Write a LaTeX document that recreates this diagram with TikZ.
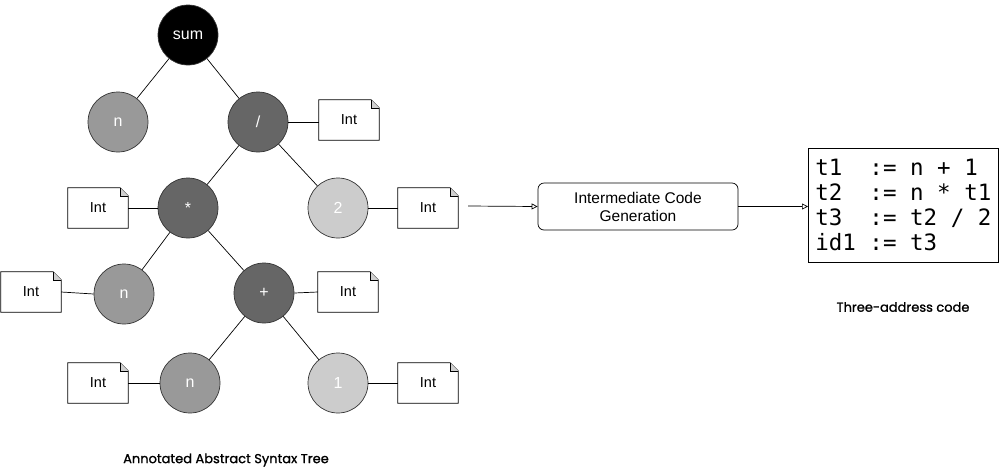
\documentclass[tikz,border=0pt]{standalone}
\usepackage{fontspec}
\setmainfont{Liberation Sans}
\setmonofont{DejaVu Sans Mono}
\newfontfamily\capfont[FakeBold=1.2]{Poppins}
\usetikzlibrary{arrows.meta}
\definecolor{gA}{HTML}{999999}
\definecolor{gB}{HTML}{666666}
\definecolor{gC}{HTML}{CCCCCC}
\definecolor{fold}{HTML}{D0D0D0}
\tikzset{
  line/.style={draw=black, line width=0.7pt},
  tnode/.style={circle, draw=black!80, line width=0.7pt, minimum size=60pt, inner sep=0pt, text=white, font=\fontsize{16}{18}\selectfont},
  notebox/.style={rectangle, minimum width=60pt, minimum height=40pt, inner sep=0pt, font=\fontsize{14.5}{16}\selectfont},
  flow/.style={line, -{Triangle[open, length=6pt, width=6pt]}},
  procbox/.style={rectangle, rounded corners=6pt, draw=black, line width=0.7pt, minimum width=200pt, minimum height=47pt, align=center, font=\fontsize{15.5}{18}\selectfont},
  codebox/.style={rectangle, draw=black, line width=0.7pt, minimum width=190pt, minimum height=114pt, align=left, inner sep=4pt, font=\ttfamily\fontsize{22.5}{25}\selectfont},
  caption/.style={font=\capfont\fontsize{13}{15}\selectfont}
}
\newcommand\intnote[2]{%
  \node[notebox] (#1) at (#2) {Int};
  \draw[line] (#1.north west) -- ([xshift=-8pt]#1.north east) -- ([yshift=-8pt]#1.north east) -- (#1.south east) -- (#1.south west) -- cycle;
  \draw[line, fill=fold, line width=0.6pt] ([xshift=-8pt]#1.north east) -- ([xshift=-8pt,yshift=-8pt]#1.north east) -- ([yshift=-8pt]#1.north east);
}
\begin{document}
\begin{tikzpicture}[x=1pt, y=-1pt]
\useasboundingbox (0,0) rectangle (999,475);
% tree nodes
\node[tnode, fill=black] (sum) at (188,35) {sum};
\node[tnode, fill=gA] (n1) at (118,122) {n};
\node[tnode, fill=gB] (div) at (258,122) {/};
\node[tnode, fill=gB] (mul) at (188,208) {*};
\node[tnode, fill=gC] (two) at (338,208) {2};
\node[tnode, fill=gA] (n2) at (124,294) {n};
\node[tnode, fill=gB] (plus) at (264,293) {+};
\node[tnode, fill=gA] (n3) at (190,383) {n};
\node[tnode, fill=gC] (one) at (338,383) {1};
% tree edges
\draw[line] (sum) -- (n1);
\draw[line] (sum) -- (div);
\draw[line] (div) -- (mul);
\draw[line] (div) -- (two);
\draw[line] (mul) -- (n2);
\draw[line] (mul) -- (plus);
\draw[line] (plus) -- (n3);
\draw[line] (plus) -- (one);
% notes
\intnote{tdiv}{349,120}
\intnote{tmul}{98,208}
\intnote{ttwo}{428,208}
\intnote{tn2}{31,292}
\intnote{tplus}{348,292}
\intnote{tn3}{98,383}
\intnote{tone}{428,383}
\draw[line] (div.east) -- (tdiv.west |- div.east);
\draw[line] (tmul.east) -- (mul.west);
\draw[line] (two.east) -- (ttwo.west);
\draw[line] (tn2.east) -- (n2.west);
\draw[line] (plus.east) -- (tplus.west);
\draw[line] (tn3.east) -- (n3.west);
\draw[line] (one.east) -- (tone.west);
% pipeline
\coordinate (ain) at (468,206);
\node[procbox] (icg) at (638,206.5) {Intermediate Code\\Generation};
\node[codebox, anchor=north west] (code) at (808,148) {t1\ \ :=\ n\ +\ 1\\t2\ \ :=\ n\ *\ t1\\t3\ \ :=\ t2\ /\ 2\\id1\ :=\ t3};
\draw[flow] (ain) -- (icg.west);
\draw[flow] (icg.east) -- (code.west |- icg.east);
% captions
\node[caption] (cap1) at (903,307) {Three-address code};
\node[caption] (cap2) at (226,460) {Annotated Abstract Syntax Tree};
\end{tikzpicture}
\end{document}
